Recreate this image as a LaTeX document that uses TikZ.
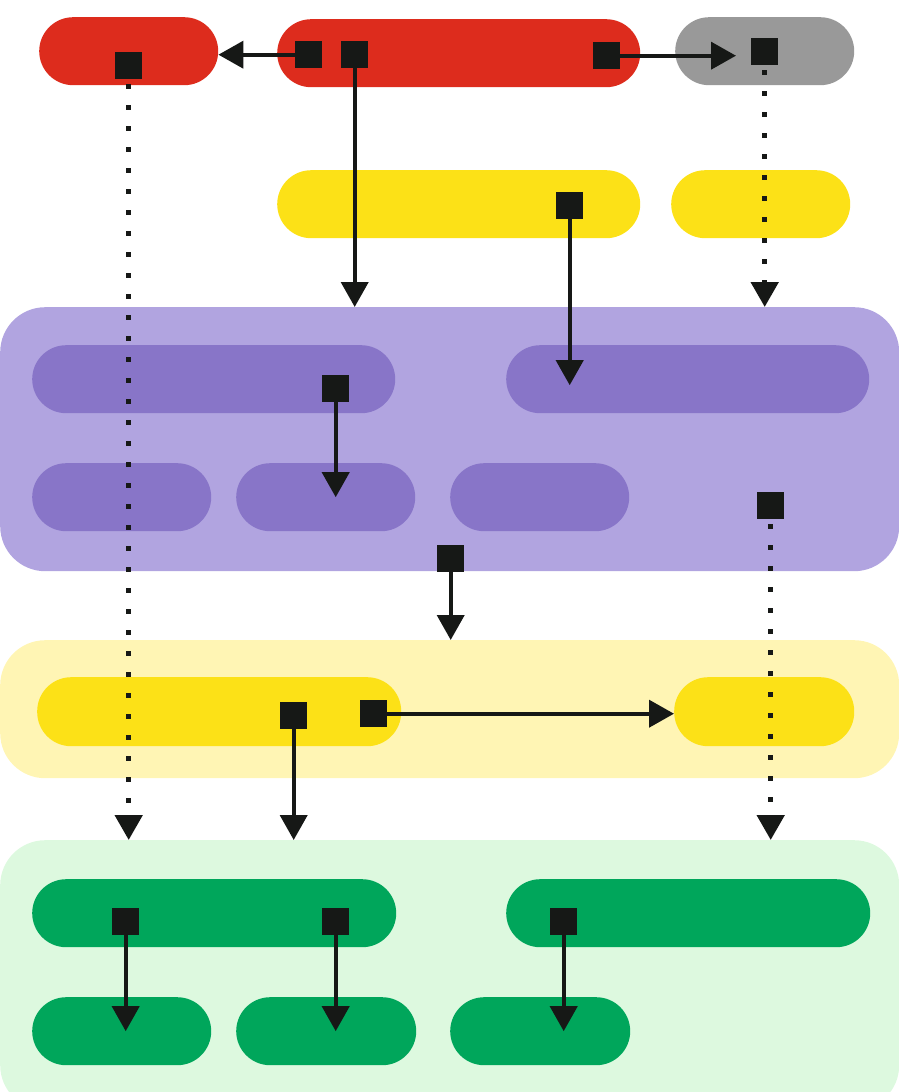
\documentclass[tikz,border=0pt]{standalone}
\usetikzlibrary{arrows.meta}
\definecolor{cred}{HTML}{DD2C1D}
\definecolor{cgray}{HTML}{999999}
\definecolor{cyel}{HTML}{FCE117}
\definecolor{clyel}{HTML}{FFF5B4}
\definecolor{clpur}{HTML}{B1A4E0}
\definecolor{cdpur}{HTML}{8875C8}
\definecolor{cgreen}{HTML}{00A65B}
\definecolor{clgreen}{HTML}{DDF9DF}
\definecolor{cblk}{HTML}{161816}
\tikzset{
  pill/.style={rectangle, rounded corners=34pt, inner sep=0pt, anchor=north west,
    minimum height=68pt, draw=none},
  group/.style={rectangle, rounded corners=45pt, inner sep=0pt, anchor=north west, draw=none},
  port/.style={rectangle, fill=cblk, inner sep=0pt, minimum size=27pt, anchor=north west},
  link/.style={draw=cblk, line width=4pt, -{Triangle[width=27pt,length=25pt]}},
  dotlink/.style={draw=cblk, line width=5pt, dash pattern=on 5pt off 16pt, dash phase=16pt,
    -{Triangle[width=27pt,length=25pt]}},
}
\begin{document}
\begin{tikzpicture}[x=1pt,y=-1pt]
\useasboundingbox (0,0) rectangle (899,1092);
% groups
\node[group, fill=clpur, minimum width=899pt, minimum height=264pt] (purple) at (0,307) {};
\node[group, fill=clyel, minimum width=899pt, minimum height=138pt] (lyel) at (0,640) {};
\node[group, fill=clgreen, minimum width=899pt, minimum height=270pt] (green) at (0,840) {};
% top row
\node[pill, fill=cred, minimum width=179pt] (red1) at (39,17) {};
\node[pill, fill=cred, minimum width=363pt] (red2) at (277,19) {};
\node[pill, fill=cgray, minimum width=179pt] (gray) at (675,17) {};
% yellow row
\node[pill, fill=cyel, minimum width=363pt] (yel1) at (277,170) {};
\node[pill, fill=cyel, minimum width=179pt] (yel2) at (671,170) {};
% purple inner
\node[pill, fill=cdpur, minimum width=363pt] (pp1) at (32,345) {};
\node[pill, fill=cdpur, minimum width=363pt] (pp2) at (506,345) {};
\node[pill, fill=cdpur, minimum width=179pt] (pp3) at (32,463) {};
\node[pill, fill=cdpur, minimum width=179pt] (pp4) at (236,463) {};
\node[pill, fill=cdpur, minimum width=179pt] (pp5) at (450,463) {};
% yellow inner
\node[pill, fill=cyel, minimum width=364pt, minimum height=69pt] (yi1) at (37,677) {};
\node[pill, fill=cyel, minimum width=180pt, minimum height=69pt] (yi2) at (674,677) {};
% green inner
\node[pill, fill=cgreen, minimum width=364pt] (gp1) at (32,879) {};
\node[pill, fill=cgreen, minimum width=364pt] (gp2) at (506,879) {};
\node[pill, fill=cgreen, minimum width=179pt] (gp3) at (32,997) {};
\node[pill, fill=cgreen, minimum width=180pt] (gp4) at (236,997) {};
\node[pill, fill=cgreen, minimum width=180pt] (gp5) at (450,997) {};
% ports
\node[port] (r1s) at (115,52) {};
\node[port] (r2a) at (295,41) {};
\node[port] (r2b) at (341,41) {};
\node[port] (r2c) at (593,42) {};
\node[port] (gs) at (751,38) {};
\node[port] (ys) at (556,192) {};
\node[port] (ps1) at (322,375) {};
\node[port] (ps2) at (757,492) {};
\node[port] (ps3) at (437,545) {};
\node[port] (ya) at (280,702) {};
\node[port] (yb) at (360,700) {};
\node[port] (g1) at (112,908) {};
\node[port] (g2) at (322,908) {};
\node[port] (g3) at (550,908) {};
% connectors
\draw[link] (r2a.west) -- (r2a.west -| red1.east);
\draw[link] (r2b.south) -- (r2b.south |- purple.north);
\draw[link, shorten >=15pt] (r2c.east) -- (r2c.east -| gs.west);
\draw[dotlink] (gs.south) -- (gs.south |- purple.north);
\draw[dotlink] (r1s.south) -- (r1s.south |- green.north);
\draw[link] (ys.south) -- ([yshift=-6pt]ys.south |- pp2.center);
\draw[link] (ps1.south) -- (ps1.south |- pp4.center);
\draw[dotlink] (ps2.south) -- (ps2.south |- green.north);
\draw[link] (ps3.south) -- (ps3.south |- lyel.north);
\draw[link] (ya.south) -- (ya.south |- green.north);
\draw[link] (yb.east) -- (yb.east -| yi2.west);
\draw[link] (g1.south) -- (g1.south |- gp3.center);
\draw[link] (g2.south) -- (g2.south |- gp4.center);
\draw[link] (g3.south) -- (g3.south |- gp5.center);
\end{tikzpicture}
\end{document}
